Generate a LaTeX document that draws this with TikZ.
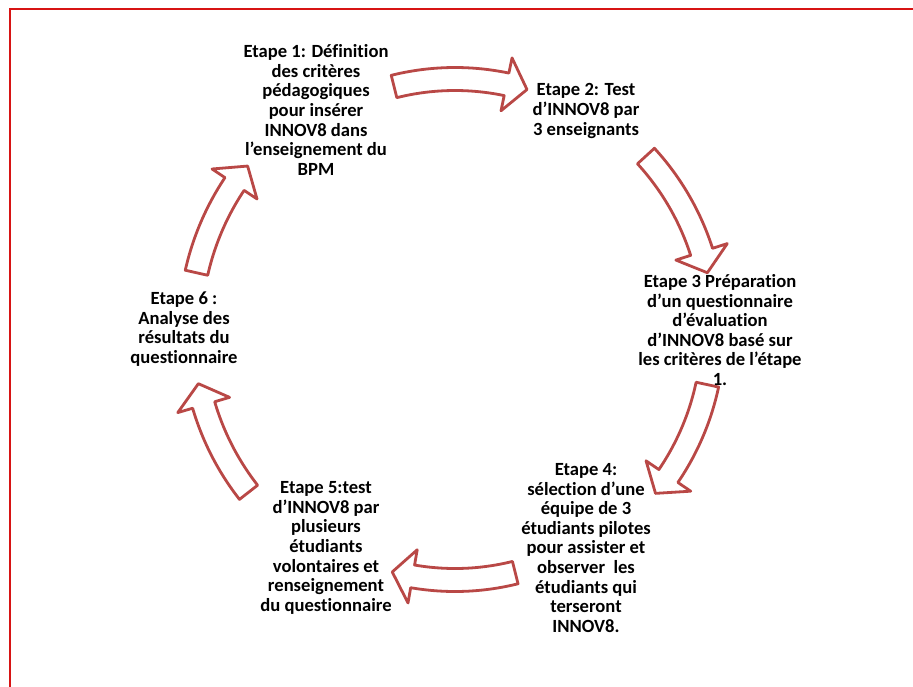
\documentclass[tikz,border=0pt]{standalone}
\usepackage{fontspec}
\setmainfont{Carlito}[Ligatures=NoCommon]
\definecolor{arrowred}{RGB}{185,72,70}
\definecolor{framered}{RGB}{215,20,20}
\newcommand\cirarrow[5]{%
  \pgfmathsetmacro\arrsgn{sign(#5-#4)}%
  \pgfmathsetmacro\arrbase{#5-\arrsgn*4.8}%
  \draw[arrowshape]
    plot[domain=#4:\arrbase, samples=40] ({#1+(#3+11.5)*cos(\x)},{#2+(#3+11.5)*sin(\x)})
    -- ({#1+(#3+27)*cos(\arrbase)},{#2+(#3+27)*sin(\arrbase)})
    -- ({#1+#3*cos(#5)},{#2+#3*sin(#5)})
    -- ({#1+(#3-27)*cos(\arrbase)},{#2+(#3-27)*sin(\arrbase)})
    -- plot[domain=\arrbase:#4, samples=40] ({#1+(#3-11.5)*cos(\x)},{#2+(#3-11.5)*sin(\x)})
    -- cycle;}
\begin{document}
\begin{tikzpicture}[x=1pt,y=-1pt,
  arrowshape/.style={draw=arrowred, fill=white, line width=2.8pt, line join=round},
  steptext/.style={align=center, inner sep=0pt, font=\bfseries\fontsize{18.6}{19.6}\selectfont}]
\useasboundingbox (0,0) rectangle (913,686);
\fill[white] (0,0) rectangle (913,686);
\draw[framered, line width=2pt] (10,8.5) rectangle (940,720);
% arrows around the cycle (centre 455,331)
\cirarrow{455}{331}{252}{-104}{-73.4}
\cirarrow{455}{331}{259}{-42.5}{-13}
\cirarrow{455}{331}{258}{12}{39}
\cirarrow{455}{331}{249}{76}{104.6}
\cirarrow{455}{331}{262}{142}{168.4}
\cirarrow{455}{331}{265}{192.7}{218.5}
% step texts
\node[steptext] (e1) at (316,110) {Etape 1: Définition\\des critères\\pédagogiques\\pour insérer\\INNOV8 dans\\l’enseignement du\\BPM};
\node[steptext] (e2) at (586,111) {Etape 2: Test\\d’INNOV8 par\\3 enseignants};
\node[steptext] (e3) at (720,330) {Etape 3 Préparation\\d’un questionnaire\\d’évaluation\\d’INNOV8 basé sur\\les critères de l’étape\\1.};
\node[steptext] (e4) at (586,548) {Etape 4:\\sélection d’une\\équipe de 3\\étudiants pilotes\\pour assister et\\observer\ \ les\\étudiants qui\\terseront\\INNOV8.};
\node[steptext] (e5) at (326,548) {Etape 5:test\\d’INNOV8 par\\plusieurs\\étudiants\\volontaires et\\renseignement\\du questionnaire};
\node[steptext] (e6) at (184,329) {Etape 6 :\\Analyse des\\résultats du\\questionnaire};
\end{tikzpicture}
\end{document}
